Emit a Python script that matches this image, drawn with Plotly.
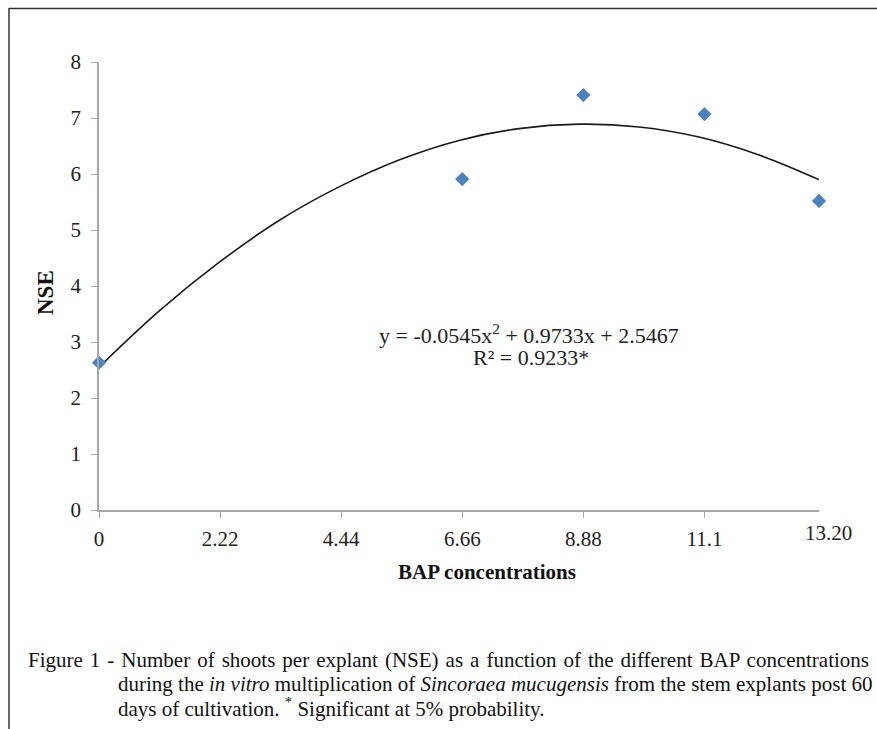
import plotly.graph_objects as go

# Data
bap = [0, 6.66, 8.88, 11.1, 13.2]
nse = [2.63, 5.91, 7.41, 7.07, 5.52]

# Fitted trend curve
curve_x = [0, 1.1, 2.2, 3.3, 4.4, 5.5, 6.6, 7.7, 8.8, 9.9, 11.0, 12.1, 13.2]
curve_y = [2.55, 3.55, 4.42, 5.17, 5.77, 6.25, 6.60, 6.81, 6.89, 6.84, 6.66, 6.34, 5.90]

x_tickvals = [0, 2.22, 4.44, 6.66, 8.88, 11.1]
x_ticktext = ["0", "2.22", "4.44", "6.66", "8.88", "11.1"]
y_tickvals = [0, 1, 2, 3, 4, 5, 6, 7, 8]

equation = "y = -0.0545x<sup>2</sup> + 0.9733x + 2.5467"
r2_text = "R² = 0.9233*"
caption_lines = [
    "Figure 1 - Number of shoots per explant (NSE) as a function of the different BAP concentrations",
    "during the <i>in vitro</i> multiplication of <i>Sincoraea mucugensis</i> from the stem explants post 60",
    "days of cultivation. <sup>*</sup> Significant at 5% probability.",
]

W, H = 877, 729
# plot area in window pixels
PX0, PX1, PY0, PY1 = 99, 819, 62, 510
L, T = PX0, PY0
R, B = W - PX1, H - PY1
pw, ph = W - L - R, H - T - B

def px(x):  # window px -> paper
    return (x - PX0) / pw

def py(y):
    return (PY1 - y) / ph

FONT = "Liberation Serif, Times New Roman, serif"

fig = go.Figure()
fig.add_trace(go.Scatter(x=curve_x, y=curve_y, mode="lines",
                         line=dict(color="#1a1a1a", width=1.6, shape="spline"),
                         hoverinfo="skip", showlegend=False, cliponaxis=False))
fig.add_trace(go.Scatter(x=bap, y=nse, mode="markers",
                         marker=dict(symbol="diamond", size=11, color="#4F81BD"),
                         showlegend=False, cliponaxis=False))

fig.update_layout(
    width=W, height=H,
    margin=dict(l=L, r=R, t=T, b=B, pad=0),
    paper_bgcolor="white", plot_bgcolor="white",
    font=dict(family=FONT, size=21, color="#222"),
    xaxis=dict(range=[0, 13.2], tickvals=x_tickvals, ticktext=x_ticktext,
               showgrid=False, zeroline=False, showline=True,
               linecolor="#a6a6a6", linewidth=1.5,
               ticks="outside", ticklen=6, tickcolor="#a6a6a6", tickwidth=1,
               ticklabelstandoff=3,
               tickfont=dict(family=FONT, size=21, color="#222")),
    yaxis=dict(range=[0, 8], tickvals=y_tickvals,
               showgrid=False, zeroline=False, showline=True,
               linecolor="#a6a6a6", linewidth=1.5,
               ticks="outside", ticklen=6, tickcolor="#a6a6a6", tickwidth=1,
               ticklabelstandoff=6,
               tickfont=dict(family=FONT, size=21, color="#222")),
)

ann = []
ann.append(dict(x=px(828), y=py(533), xref="paper", yref="paper", text="13.20",
                showarrow=False, xanchor="center", yanchor="middle",
                font=dict(family=FONT, size=21, color="#222")))
ann.append(dict(x=px(487), y=py(572), xref="paper", yref="paper",
                text="<b>BAP concentrations</b>", showarrow=False,
                xanchor="center", yanchor="middle",
                font=dict(family=FONT, size=21, color="#111")))
ann.append(dict(x=px(45), y=py(293), xref="paper", yref="paper",
                text="<b>NSE</b>", showarrow=False, textangle=-90,
                xanchor="center", yanchor="middle",
                font=dict(family=FONT, size=23, color="#111")))
ann.append(dict(x=px(529), y=py(334), xref="paper", yref="paper", text=equation,
                showarrow=False, xanchor="center", yanchor="middle",
                font=dict(family=FONT, size=22, color="#222")))
ann.append(dict(x=px(531), y=py(357), xref="paper", yref="paper", text=r2_text,
                showarrow=False, xanchor="center", yanchor="middle",
                font=dict(family=FONT, size=22, color="#222")))


def justify(line):
    return line.replace(" ", " \u200a")


cap_pos = [(26, 660), (116, 684), (116, 707)]
for i, ((cx, cy), line) in enumerate(zip(cap_pos, caption_lines)):
    text = justify(line) if i == 0 else line
    ann.append(dict(x=px(cx), y=py(cy), xref="paper", yref="paper", text=text,
                    showarrow=False, xanchor="left", yanchor="middle",
                    font=dict(family=FONT, size=21, color="#111")))
fig.update_layout(annotations=ann)

# frame lines (window x=9, y=8)
fig.add_shape(type="line", xref="paper", yref="paper",
              x0=px(9), x1=px(W + 10), y0=py(8.5), y1=py(8.5),
              line=dict(color="#333", width=1.5))
fig.add_shape(type="line", xref="paper", yref="paper",
              x0=px(9), x1=px(9), y0=py(8), y1=py(H + 10),
              line=dict(color="#333", width=1.5))

fig.write_html("out.html", config={"displayModeBar": False},
               post_script="document.body.style.margin='0';document.body.style.overflow='hidden';")
